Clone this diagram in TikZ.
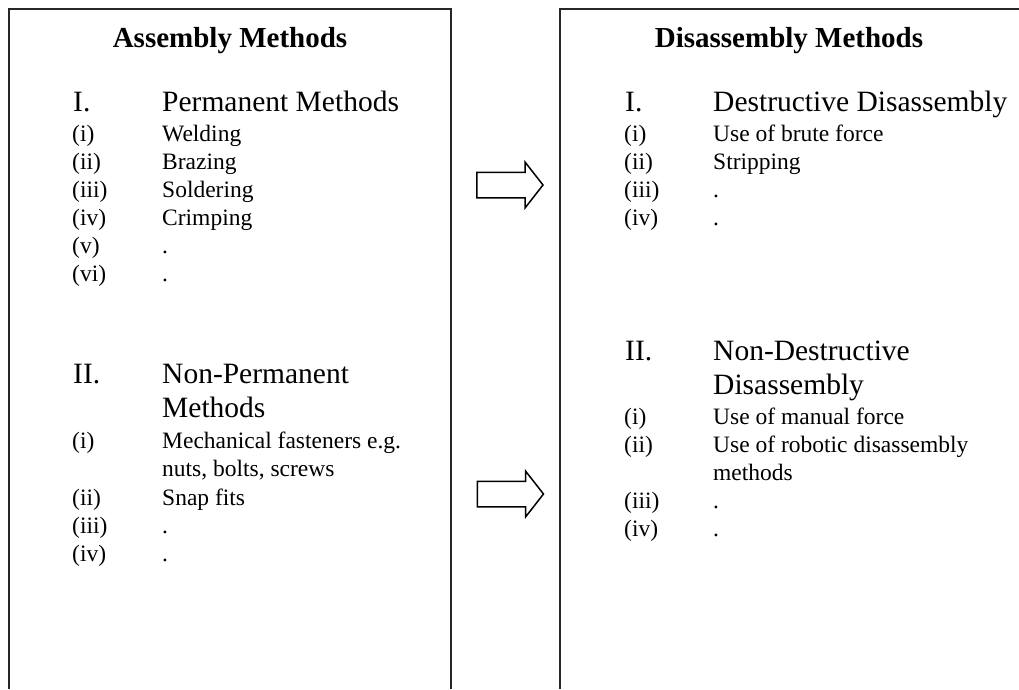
\documentclass[tikz,border=0pt]{standalone}
\usepackage{fontspec}
\setmainfont{Liberation Serif}
\usetikzlibrary{shapes.arrows}

\tikzset{
    frameline/.style={line width=1.3pt, black!85},
    titletext/.style={anchor=base, font=\fontsize{29}{33}\selectfont\bfseries},
    headtext/.style={anchor=base west, inner sep=0pt, align=left, font=\fontsize{29.5}{34}\selectfont},
    itemtext/.style={anchor=base west, inner sep=0pt, align=left, font=\fontsize{23.5}{28.5}\selectfont},
    blockarrow/.style={draw, single arrow, single arrow head extend=10pt, single arrow tip angle=104,
        minimum height=66pt, inner xsep=0pt, inner ysep=12pt, line width=1.5pt}
}

\begin{document}
\begin{tikzpicture}[x=1pt, y=-1pt]
    \useasboundingbox (0,0) rectangle (1019,689);

    % frames, open at the bottom
    \draw[frameline] (9,689) -- (9,9) -- (451,9) -- (451,689);
    \draw[frameline] (560,689) -- (560,9) -- (1019,9);

    % assembly side
    \node[titletext] (asmtitle) at (230,47) {Assembly Methods};

    \node[headtext] (asmInum) at (73,111) {I.};
    \node[headtext] (asmIhead) at (162,111) {Permanent Methods};
    \node[itemtext] (asmIa) at (72,141) {(i)};
    \node[itemtext] (asmIb) at (72,169) {(ii)};
    \node[itemtext] (asmIc) at (72,197) {(iii)};
    \node[itemtext] (asmId) at (72,225) {(iv)};
    \node[itemtext] (asmIe) at (72,253) {(v)};
    \node[itemtext] (asmIf) at (72,281) {(vi)};
    \node[itemtext] (asmIatext) at (162,141) {Welding};
    \node[itemtext] (asmIbtext) at (162,169) {Brazing};
    \node[itemtext] (asmIctext) at (162,197) {Soldering};
    \node[itemtext] (asmIdtext) at (162,225) {Crimping};
    \node[itemtext] (asmIetext) at (162,253) {.};
    \node[itemtext] (asmIftext) at (162,281) {.};

    % base of a two-line node is its last line
    \node[headtext] (asmIInum) at (73,383) {II.};
    \node[headtext] (asmIIhead) at (162,417) {Non-Permanent\\Methods};
    \node[itemtext] (asmIIa) at (72,448) {(i)};
    \node[itemtext] (asmIIb) at (72,505) {(ii)};
    \node[itemtext] (asmIIc) at (72,533) {(iii)};
    \node[itemtext] (asmIId) at (72,561) {(iv)};
    \node[itemtext] (asmIIatext) at (162,476.5) {Mechanical fasteners e.g.\\nuts, bolts, screws};
    \node[itemtext] (asmIIbtext) at (162,505) {Snap fits};
    \node[itemtext] (asmIIctext) at (162,533) {.};
    \node[itemtext] (asmIIdtext) at (162,561) {.};

    % disassembly side
    \node[titletext] (distitle) at (789,47) {Disassembly Methods};

    \node[headtext] (disInum) at (625,111) {I.};
    \node[headtext] (disIhead) at (713,111) {Destructive Disassembly};
    \node[itemtext] (disIa) at (624,141) {(i)};
    \node[itemtext] (disIb) at (624,169) {(ii)};
    \node[itemtext] (disIc) at (624,197) {(iii)};
    \node[itemtext] (disId) at (624,225) {(iv)};
    \node[itemtext] (disIatext) at (713,141) {Use of brute force};
    \node[itemtext] (disIbtext) at (713,169) {Stripping};
    \node[itemtext] (disIctext) at (713,197) {.};
    \node[itemtext] (disIdtext) at (713,225) {.};

    \node[headtext] (disIInum) at (625,360) {II.};
    \node[headtext] (disIIhead) at (713,394) {Non-Destructive\\Disassembly};
    \node[itemtext] (disIIa) at (624,424) {(i)};
    \node[itemtext] (disIIb) at (624,452) {(ii)};
    \node[itemtext] (disIIc) at (624,508) {(iii)};
    \node[itemtext] (disIId) at (624,536) {(iv)};
    \node[itemtext] (disIIatext) at (713,424) {Use of manual force};
    \node[itemtext] (disIIbtext) at (713,480.5) {Use of robotic disassembly\\methods};
    \node[itemtext] (disIIctext) at (713,508) {.};
    \node[itemtext] (disIIdtext) at (713,536) {.};

    % block arrows between the frames
    \node[blockarrow] (arrowI) at (505,185) {};
    \node[blockarrow] (arrowII) at (505.5,494) {};
\end{tikzpicture}
\end{document}
